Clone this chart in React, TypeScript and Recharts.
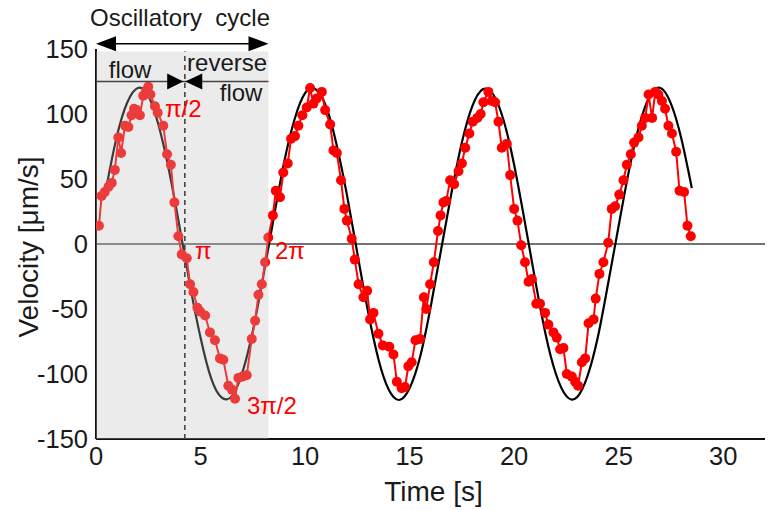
import React from 'react'
import {
  ComposedChart,
  Line,
  XAxis,
  YAxis,
  ReferenceArea,
  ReferenceLine,
  ReferenceDot,
} from 'recharts'

// fitted sine (black), every 0.5 s
const fitTime = [
  0.5, 1, 1.5, 2, 2.5, 3, 3.5, 4, 4.5, 5, 5.5, 6, 6.5, 7, 7.5, 8, 8.5, 9, 9.5, 10,
  10.5, 11, 11.5, 12, 12.5, 13, 13.5, 14, 14.5, 15, 15.5, 16, 16.5, 17, 17.5, 18,
  18.5, 19, 19.5, 20, 20.5, 21, 21.5, 22, 22.5, 23, 23.5, 24, 24.5, 25, 25.5, 26,
  26.5, 27, 27.5, 28, 28.5,
]
const fitVelocity = [
  44, 83, 109, 120, 114, 91, 56, 13, -32, -72, -103, -118, -117, -99, -67, -25, 20, 63, 96, 116,
  119, 106, 77, 38, -7, -51, -88, -112, -120, -111, -87, -49, -5, 39, 78, 106,
  119, 115, 95, 61, 18, -27, -69, -100, -117, -118, -102, -72, -30, 14, 57, 92,
  114, 120, 108, 81, 43,
]

// measured velocity (red dots)
const measTime = [
  0.14, 0.27, 0.42, 0.6, 0.75, 0.9, 1.07, 1.2, 1.39, 1.55, 1.7, 1.82, 1.95, 2.1, 2.26, 2.4, 2.5, 2.6,
  2.82, 2.95, 3.22, 3.4, 3.58, 3.75, 3.94, 4.1, 4.34, 4.5, 4.66, 4.85, 4.98, 5.22, 5.45, 5.69, 5.93,
  6.09, 6.33, 6.5, 6.65, 6.81, 7.0, 7.21, 7.45, 7.61, 7.77, 7.93, 8.09, 8.24,
  8.46, 8.6, 8.8, 8.96, 9.17, 9.33, 9.52, 9.68, 9.87, 10.08, 10.24, 10.4, 10.56, 10.8, 10.96, 11.2,
  11.36, 11.52, 11.72, 11.88, 12.0, 12.23, 12.38, 12.56, 12.79, 12.97, 13.11, 13.27, 13.51, 13.72,
  14.03, 14.23, 14.39, 14.62, 14.78, 14.94, 15.1, 15.28, 15.5, 15.68, 15.8, 15.98, 16.16, 16.36,
  16.48, 16.62,
  16.75, 16.94, 17.13, 17.34, 17.5, 17.66, 17.86, 18.02, 18.24, 18.4, 18.53, 18.77, 18.93, 19.09,
  19.25, 19.41, 19.65, 19.81, 20.0, 20.16, 20.34, 20.52, 20.69, 20.85, 21.06, 21.24, 21.48, 21.64,
  21.88, 22.04, 22.2, 22.36, 22.52, 22.76, 22.92, 23.06, 23.24, 23.4, 23.56, 23.8, 23.9, 24.08,
  24.27, 24.5, 24.67, 24.83, 25.03,
  25.23, 25.39, 25.58, 25.74, 25.95, 26.11, 26.27, 26.43, 26.6, 26.75, 26.9, 27.07, 27.22, 27.38,
  27.55, 27.75, 27.91, 28.13, 28.29, 28.45,
]
const measVelocity = [
  14, 37, 40, 44, 47, 57, 82, 70, 91, 90, 99, 104, 103, 99, 114, 118, 121, 115,
  106, 101, 91, 69, 61, 32, 6, -8, -11, -31, -37, -49, -52, -55, -68, -74, -88,
  -89, -109, -112, -119, -103, -102, -101, -73, -59, -39, -31, -14, 5,
  22, 41, 36, 55, 62, 81, 83, 91, 99, 105, 120, 108, 112, 117, 103, 92,
  72, 70, 49, 27, 18, 4, -12, -31, -41, -36, -58, -53, -69, -78,
  -79, -85, -106, -111, -110, -94, -91, -74, -73, -41, -50, -31, -14, 10,
  22, 32,
  33, 49, 46, 56, 62, 74, 85, 94, 97, 100, 109, 117, 110, 109,
  94, 74, 77, 53, 27, 18, -1, -14, -29, -27, -46, -46, -53, -62,
  -68, -72, -81, -80, -100, -102, -106, -109, -91, -88, -61, -58, -42, -23,
  -14, 1, 27, 29, 38,
  49, 61, 69, 78, 82, 91, 97, 115, 97, 117, 115, 110, 104, 91,
  85, 71, 41, 40, 14, 6,
]

const xTicks = [0, 5, 10, 15, 20, 25, 30]
const yTicks = [-150, -100, -50, 0, 50, 100, 150]

const fitData = fitTime.map((t, i) => ({ t, v: fitVelocity[i] }))
const measData = measTime.map((t, i) => ({ t, v: measVelocity[i] }))

const FONT = '"Liberation Sans", Arial, sans-serif'
const RED = '#ff0000'
const INK = '#1a1a1a'

// text placed at a data coordinate
const txt = (value: string, anchor: 'start' | 'middle' | 'end', fill = INK) =>
  (props: any) => (
    <text x={props.cx} y={props.cy} textAnchor={anchor} fontSize={24} fontFamily={FONT} fill={fill}>
      {value}
    </text>
  )

// arrow head, tip at the data coordinate
const head = (dir: 'left' | 'right', len: number, half: number) => (props: any) => {
  const { cx, cy } = props
  const back = dir === 'right' ? cx - len : cx + len
  return <polygon points={`${cx},${cy} ${back},${cy - half} ${back},${cy + half}`} fill="#000" />
}

export default function App() {
  return (
    <div style={{ position: 'absolute', left: 0, top: 0, background: '#fff' }}>
      <ComposedChart width={768} height={510} margin={{ top: 49, right: 3, bottom: 0, left: 0 }}>
        <XAxis
          type="number"
          dataKey="t"
          domain={[0, 32]}
          ticks={xTicks}
          allowDataOverflow
          height={71}
          tickLine={false}
          axisLine={{ stroke: '#111', strokeWidth: 2 }}
          tick={{ fill: INK, fontSize: 25.5, fontFamily: FONT }}
          label={{
            content: (p: any) => (
              <text
                x={p.viewBox.x + p.viewBox.width / 2 + 3}
                y={p.viewBox.y + 62}
                textAnchor="middle"
                fontSize={28}
                fontFamily={FONT}
                fill={INK}
              >
                Time [s]
              </text>
            ),
          }}
        />
        <YAxis
          type="number"
          domain={[-150, 150]}
          ticks={yTicks}
          width={96}
          tickLine={false}
          axisLine={{ stroke: '#111', strokeWidth: 2 }}
          tick={{ fill: INK, fontSize: 25.5, fontFamily: FONT }}
          label={{
            content: (p: any) => {
              const cx = 28
              const cy = p.viewBox.y + p.viewBox.height / 2 + 3
              return (
                <text
                  x={cx}
                  y={cy}
                  transform={`rotate(-90 ${cx} ${cy})`}
                  textAnchor="middle"
                  dominantBaseline="central"
                  fontSize={28}
                  fontFamily={FONT}
                  fill={INK}
                >
                  Velocity [μm/s]
                </text>
              )
            },
          }}
        />

        <ReferenceLine y={0} stroke="#444" strokeWidth={1.5} />
        <ReferenceLine
          segment={[{ x: 4.25, y: -150 }, { x: 4.25, y: 148 }]}
          stroke="#000"
          strokeWidth={1.5}
          strokeDasharray="5 4"
          ifOverflow="visible"
        />

        <Line
          data={fitData}
          dataKey="v"
          type="natural"
          stroke="#000"
          strokeWidth={2.2}
          dot={false}
          isAnimationActive={false}
        />
        <Line
          data={measData}
          dataKey="v"
          type="linear"
          stroke={RED}
          strokeWidth={2}
          dot={{ r: 5, fill: RED, stroke: 'none' }}
          isAnimationActive={false}
        />

        {/* shaded first cycle, laid over the curves */}
        <ReferenceArea
          x1={0}
          x2={8.25}
          y1={-150}
          y2={148}
          fill="#bfbfbf"
          fillOpacity={0.31}
          stroke="none"
          ifOverflow="visible"
          zIndex={700}
        />

        {/* oscillatory cycle arrow */}
        <ReferenceLine
          segment={[{ x: 0.5, y: 154 }, { x: 7.8, y: 154 }]}
          stroke="#000"
          strokeWidth={1.5}
          ifOverflow="visible"
          zIndex={800}
        />
        <ReferenceDot x={0} y={154} ifOverflow="visible" shape={head('left', 20, 7.5)} zIndex={800} />
        <ReferenceDot x={8.25} y={154} ifOverflow="visible" shape={head('right', 20, 7.5)} zIndex={800} />

        {/* flow / reverse flow line */}
        <ReferenceLine
          segment={[{ x: 0, y: 125 }, { x: 8.25, y: 125 }]}
          stroke="#444"
          strokeWidth={1.5}
          ifOverflow="visible"
          zIndex={800}
        />
        <ReferenceDot x={4.17} y={125} ifOverflow="visible" shape={head('right', 16, 8)} zIndex={800} />
        <ReferenceDot x={4.27} y={125} ifOverflow="visible" shape={head('left', 17, 8)} zIndex={800} />

        <ReferenceDot x={4.02} y={168} ifOverflow="visible" shape={txt('Oscillatory\u00a0 cycle', 'middle')} zIndex={800} />
        <ReferenceDot x={1.63} y={128} ifOverflow="visible" shape={txt('flow', 'middle')} zIndex={800} />
        <ReferenceDot x={6.27} y={133} ifOverflow="visible" shape={txt('reverse', 'middle')} zIndex={800} />
        <ReferenceDot x={6.94} y={110} ifOverflow="visible" shape={txt('flow', 'middle')} zIndex={800} />

        <ReferenceDot x={3.3} y={98} ifOverflow="visible" shape={txt('π/2', 'start', RED)} zIndex={800} />
        <ReferenceDot x={4.74} y={-11.5} ifOverflow="visible" shape={txt('π', 'start', RED)} zIndex={800} />
        <ReferenceDot x={8.56} y={-11.5} ifOverflow="visible" shape={txt('2π', 'start', RED)} zIndex={800} />
        <ReferenceDot x={7.22} y={-131} ifOverflow="visible" shape={txt('3π/2', 'start', RED)} zIndex={800} />
      </ComposedChart>
    </div>
  )
}
